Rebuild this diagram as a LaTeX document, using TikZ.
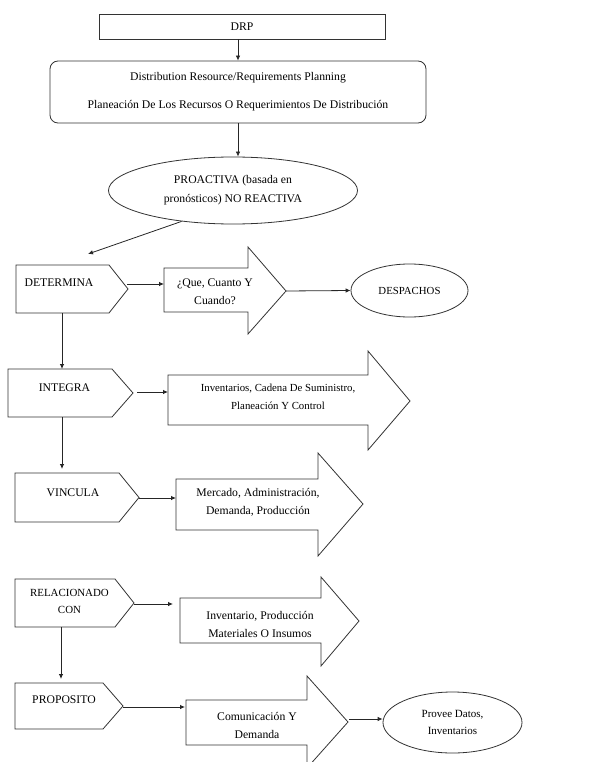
\documentclass[tikz,border=0pt]{standalone}
\usepackage{fontspec}
\setmainfont{Liberation Serif}
\usetikzlibrary{arrows.meta,shapes.geometric}
\begin{document}
\begin{tikzpicture}[x=1pt,y=-1pt,
  outline/.style={draw=black!80, line width=0.8pt, fill=white},
  conn/.style={draw=black!85, line width=0.8pt, -{Latex[length=5pt,width=4.5pt]}},
  lbl/.style={font=\fontsize{11.7}{18}\selectfont, align=center, inner sep=0pt},
  lblsmall/.style={font=\fontsize{10.8}{18}\selectfont, align=center, inner sep=0pt}]
\useasboundingbox (0,0) rectangle (598,762);
\clip (0,0) rectangle (598,762);

% --- top of the chart ---
\node[outline, lbl, minimum width=286pt, minimum height=25pt] (drp) at (242,26.5) {DRP};
\node[outline, lbl, rounded corners=8pt, minimum width=376pt, minimum height=62pt]
  (plan) at (238,92) {Distribution Resource/Requirements Planning\\[10pt]
  Planeación De Los Recursos O Requerimientos De Distribución};
\node[outline, lbl, ellipse, minimum width=249pt, minimum height=67pt, inner sep=0pt,
  font=\fontsize{11.7}{19}\selectfont] (pro) at (233,190.5)
  {PROACTIVA (basada en\\pronósticos) NO REACTIVA};

% --- left column: pentagon tags ---
\draw[outline] (16,265) -- (109,265) -- (128,289) -- (109,313) -- (16,313) -- cycle;
\node[lbl] (det) at (59,283) {DETERMINA};
\coordinate (det-in) at (88,254);
\coordinate (det-e) at (127,284);
\coordinate (det-s) at (62,313);

\draw[outline] (8,369) -- (112,369) -- (133,393) -- (112,417) -- (8,417) -- cycle;
\node[lbl] (int) at (64.5,388) {INTEGRA};
\coordinate (int-n) at (62,369);
\coordinate (int-e) at (137,392);
\coordinate (int-s) at (62,417);

\draw[outline] (15,473) -- (119,473) -- (139,497.5) -- (119,522) -- (15,522) -- cycle;
\node[lbl] (vin) at (73,493) {VINCULA};
\coordinate (vin-n) at (62,469);
\coordinate (vin-e) at (139,498);

\draw[outline] (15,579) -- (115,579) -- (134,603) -- (115,627) -- (15,627) -- cycle;
\node[lblsmall, font=\fontsize{10.9}{17}\selectfont] (rel) at (69.5,601.5) {RELACIONADO\\CON};
\coordinate (rel-e) at (134,604);
\coordinate (rel-s) at (61,627);

\draw[outline] (15,683) -- (103,683) -- (123,706) -- (103,729) -- (15,729) -- cycle;
\node[lbl] (prp) at (64,700) {PROPOSITO};
\coordinate (prp-n) at (61,679);
\coordinate (prp-e) at (123,707);

% --- block arrows ---
\draw[outline] (164,268) -- (248,268) -- (248,247) -- (286,291) -- (248,334) -- (248,312) -- (164,312) -- cycle;
\node[lbl] (qcc) at (215,292) {¿Que, Cuanto Y\\Cuando?};
\coordinate (qcc-w) at (164,284);
\coordinate (qcc-e) at (286,291);

\draw[outline] (168,375) -- (368,375) -- (368,351) -- (410,401) -- (368,450) -- (368,425) -- (168,425) -- cycle;
\node[lblsmall] (inv) at (278,397) {Inventarios, Cadena De Suministro,\\Planeación Y Control};
\coordinate (inv-w) at (168,392);

\draw[outline] (176,479) -- (318,479) -- (318,453) -- (363,504) -- (318,556) -- (318,530) -- (176,530) -- cycle;
\node[lbl] (mer) at (258,502) {Mercado, Administración,\\Demanda, Producción};
\coordinate (mer-w) at (176,498);

\draw[outline] (180,598) -- (321,598) -- (321,577) -- (359,621) -- (321,666) -- (321,643) -- (180,643) -- cycle;
\node[lbl] (ipm) at (260,624) {Inventario, Producción\\Materiales O Insumos};
\coordinate (ipm-w) at (173,604);

\draw[outline] (186,700) -- (307,700) -- (307,676) -- (348,722) -- (307,768) -- (307,745) -- (186,745) -- cycle;
\node[lbl] (com) at (257,725) {Comunicación Y\\Demanda};
\coordinate (com-w) at (185,707);
\coordinate (com-e) at (349,719);

% --- right-hand ellipses ---
\node[outline, ellipse, minimum width=117pt, minimum height=53pt, inner sep=0pt,
  lblsmall] (des) at (409.5,290.5) {DESPACHOS};
\node[outline, ellipse, minimum width=139pt, minimum height=61pt, inner sep=0pt,
  font=\fontsize{11}{17}\selectfont, align=center] (prv) at (452.5,722.5) {Provee Datos,\\Inventarios};

% --- connectors ---
\draw[conn] (plan.north |- drp.south) -- (plan.north);
\draw[conn] (plan.south) -- (plan.south |- pro.north);
\draw[conn] (pro.211) -- (det-in);
\draw[conn] (det-e) -- (qcc-w);
\draw[conn] (qcc-e) -- (des.west);
\draw[conn] (det-s) -- (int-n);
\draw[conn] (int-e) -- (inv-w);
\draw[conn] (int-s) -- (vin-n);
\draw[conn] (vin-e) -- (mer-w);
\draw[conn] (rel-e) -- (ipm-w);
\draw[conn] (rel-s) -- (prp-n);
\draw[conn] (prp-e) -- (com-w);
\draw[conn] (com-e) -- (com-e -| prv.west);
\end{tikzpicture}
\end{document}
